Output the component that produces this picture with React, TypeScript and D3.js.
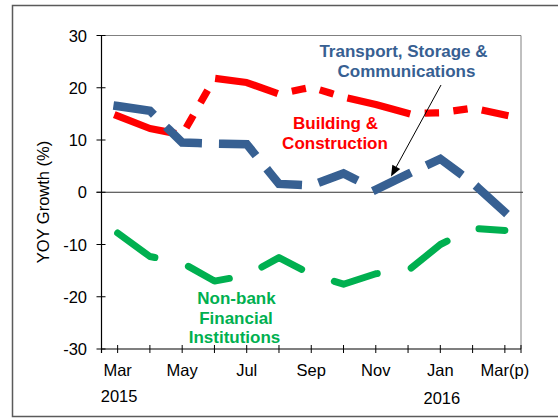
import React, { useEffect, useRef } from 'react';
import * as d3 from 'd3';

// monthly categories, Mar 2015 .. Mar 2016 (p)
const months = ['Mar15', 'Apr15', 'May15', 'Jun15', 'Jul15', 'Aug15', 'Sep15', 'Oct15', 'Nov15', 'Dec15', 'Jan16', 'Feb16', 'Mar16'];
const monthLabels = ['Mar', '', 'May', '', 'Jul', '', 'Sep', '', 'Nov', '', 'Jan', '', 'Mar(p)'];
const yearLabels = [
  { month: 'Mar15', text: '2015' },
  { month: 'Jan16', text: '2016' },
];
const yTicks = [-30, -20, -10, 0, 10, 20, 30];

// YOY growth (%)
const building = [14.6, 12.2, 11.0, 21.8, 21.0, 18.8, 20.1, 18.2, 16.8, 15.1, 15.2, 16.1, 14.8];
const transport = [16.5, 15.6, 9.5, 9.3, 9.2, 1.6, 1.3, 3.6, 0.5, 3.5, 6.4, 1.8, -3.8];
const nonbank = [-7.8, -12.3, -13.5, -17.0, -15.9, -12.5, -15.7, -17.6, -15.6, -15.0, -10.0, -6.9, -7.3];

const FONT = '"Liberation Sans", Arial, sans-serif';

const App = () => {
  const svgRef = useRef<SVGSVGElement | null>(null);

  useEffect(() => {
    if (!svgRef.current) return;
    const width = 558;
    const height = 419;
    const plot = { left: 101.5, right: 521, top: 35.5, bottom: 349 };

    const svg = d3.select(svgRef.current)
      .attr('width', width)
      .attr('height', height)
      .style('font-family', FONT);
    svg.selectAll('*').remove();

    const x = d3.scalePoint<string>()
      .domain(months)
      .range([plot.left, plot.right])
      .padding(0.5);

    const y = d3.scaleLinear()
      .domain([-30, 30])
      .range([plot.bottom, plot.top]);

    // outer frame
    svg.append('rect')
      .attr('x', 12.5).attr('y', 5.5)
      .attr('width', 600).attr('height', 411)
      .attr('fill', 'none')
      .attr('stroke', '#5a5a5a')
      .attr('stroke-width', 1.5);

    // plot border (top / right)
    svg.append('path')
      .attr('d', `M${plot.left},${plot.top}H${plot.right}V${plot.bottom}`)
      .attr('fill', 'none')
      .attr('stroke', '#808080')
      .attr('stroke-width', 1);

    // zero line
    svg.append('line')
      .attr('x1', plot.left - 5).attr('x2', plot.right + 2)
      .attr('y1', y(0)).attr('y2', y(0))
      .attr('stroke', '#333')
      .attr('stroke-width', 1);

    // y axis
    svg.append('line')
      .attr('x1', plot.left).attr('x2', plot.left)
      .attr('y1', plot.top).attr('y2', plot.bottom + 4)
      .attr('stroke', '#000').attr('stroke-width', 1.2);

    const yAxis = svg.append('g');
    yTicks.forEach(v => {
      yAxis.append('line')
        .attr('x1', plot.left - 5).attr('x2', plot.left + 4)
        .attr('y1', y(v)).attr('y2', y(v))
        .attr('stroke', '#000').attr('stroke-width', 1);
      yAxis.append('text')
        .attr('x', 87).attr('y', y(v) + 6)
        .attr('text-anchor', 'end')
        .style('font-size', '16.5px')
        .style('fill', '#000')
        .text(v);
    });

    svg.append('text')
      .attr('transform', `translate(49, 202) rotate(-90)`)
      .attr('text-anchor', 'middle')
      .style('font-size', '16.5px')
      .style('fill', '#000')
      .text('YOY Growth (%)');

    // x axis
    svg.append('line')
      .attr('x1', plot.left).attr('x2', plot.right)
      .attr('y1', plot.bottom).attr('y2', plot.bottom)
      .attr('stroke', '#000').attr('stroke-width', 1.2);

    const xAxis = svg.append('g');
    [...months.map(m => x(m) as number), plot.right].forEach(px => {
      xAxis.append('line')
        .attr('x1', px).attr('x2', px)
        .attr('y1', plot.bottom - 4).attr('y2', plot.bottom + 4)
        .attr('stroke', '#000').attr('stroke-width', 1);
    });
    months.forEach((m, i) => {
      if (!monthLabels[i]) return;
      xAxis.append('text')
        .attr('x', x(m) as number).attr('y', 376)
        .attr('text-anchor', 'middle')
        .style('font-size', '16.5px')
        .style('fill', '#000')
        .text(monthLabels[i]);
    });
    yearLabels.forEach(d => {
      xAxis.append('text')
        .attr('x', (x(d.month) as number) + 1.5).attr('y', d.text === '2015' ? 402 : 404)
        .attr('text-anchor', 'middle')
        .style('font-size', '16.5px')
        .style('fill', '#000')
        .text(d.text);
    });

    // series
    const line = d3.line<number>()
      .x((_, i) => x(months[i]) as number)
      .y(d => y(d));

    const series = [
      { values: nonbank, color: '#00B050', width: 7, dash: '45 35', cap: 'round', join: 'round' },
      { values: building, color: '#FF0000', width: 7.2, dash: '57.6 21.6 7.2 21.6 7.2 21.6', cap: 'square', join: 'round' },
      { values: transport, color: '#376092', width: 8.5, dash: '34 25.5', cap: 'square', join: 'miter' },
    ];
    series.forEach(s => {
      svg.append('path')
        .datum(s.values)
        .attr('d', line)
        .attr('fill', 'none')
        .attr('stroke', s.color)
        .attr('stroke-width', s.width)
        .attr('stroke-dasharray', s.dash)
        .attr('stroke-linecap', s.cap)
        .attr('stroke-linejoin', s.join);
    });

    // annotation arrow
    const from = [441, 85];
    const tip = [391, 176.5];
    const ang = Math.atan2(tip[1] - from[1], tip[0] - from[0]);
    const len = 11;
    const half = 4.5;
    const bx = tip[0] - len * Math.cos(ang);
    const by = tip[1] - len * Math.sin(ang);
    svg.append('line')
      .attr('x1', from[0]).attr('y1', from[1])
      .attr('x2', bx).attr('y2', by)
      .attr('stroke', '#000').attr('stroke-width', 1);
    svg.append('polygon')
      .attr('points', [
        tip,
        [bx + half * Math.sin(ang), by - half * Math.cos(ang)],
        [bx - half * Math.sin(ang), by + half * Math.cos(ang)],
      ].map(p => p.join(',')).join(' '))
      .attr('fill', '#000');

    // series labels
    const labels = [
      { lines: ['Transport, Storage &', 'Communications'], xs: [403.5, 406.5], ys: [57, 76.5], color: '#376092' },
      { lines: ['Building &', 'Construction'], xs: [335.5, 335], ys: [129, 149], color: '#FF0000' },
      { lines: ['Non-bank', 'Financial', 'Institutions'], xs: [236.5, 236, 234.5], ys: [304, 323.5, 343], color: '#00B050' },
    ];
    labels.forEach(l => {
      l.lines.forEach((t, i) => {
        svg.append('text')
          .attr('x', l.xs[i]).attr('y', l.ys[i])
          .attr('text-anchor', 'middle')
          .style('font-size', '17px')
          .style('font-weight', 'bold')
          .style('fill', l.color)
          .text(t);
      });
    });
  }, []);

  return (
    <svg ref={svgRef} style={{ position: 'absolute', left: 0, top: 0, display: 'block' }}></svg>
  );
};

export default App;
